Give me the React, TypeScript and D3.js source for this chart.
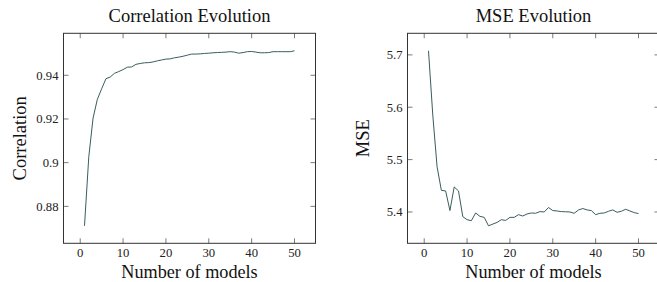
import React, { useEffect, useRef } from "react";
import * as d3 from "d3";

// number of models in the ensemble (x values)
const models = [
	1, 2, 3, 4, 5, 6, 7, 8, 9, 10, 11, 12, 13, 14, 15, 16, 17, 18, 19, 20, 21, 22, 23, 24, 25,
	26, 27, 28, 29, 30, 31, 32, 33, 34, 35, 36, 37, 38, 39, 40, 41, 42, 43, 44, 45, 46, 47, 48, 49, 50,
];

const correlation = [
	0.8711, 0.9027, 0.9204, 0.929, 0.9338, 0.9384, 0.9392, 0.9409, 0.9417, 0.9426, 0.9437, 0.9438,
	0.945, 0.9454, 0.9457, 0.9458, 0.9461, 0.9466, 0.947, 0.9474, 0.9475, 0.948, 0.9483, 0.9487,
	0.9492, 0.9497, 0.9497, 0.9498, 0.95, 0.9501, 0.9503, 0.9504, 0.9505, 0.9506, 0.9508, 0.9506,
	0.9501, 0.9504, 0.9508, 0.9509, 0.9506, 0.9503, 0.9503, 0.9504, 0.9508, 0.9508, 0.9508, 0.9508,
	0.9508, 0.9512,
];

const mse = [
	5.7078, 5.585, 5.4865, 5.4414, 5.4401, 5.4027, 5.4478, 5.4401, 5.3911, 5.3853, 5.3834, 5.3981,
	5.3917, 5.3897, 5.3736, 5.3768, 5.3801, 5.3853, 5.3839, 5.3897, 5.3897, 5.3949, 5.3923, 5.3962,
	5.3981, 5.3975, 5.4007, 5.4, 5.4085, 5.4027, 5.4019, 5.4007, 5.4004, 5.4, 5.3975, 5.4039, 5.4066,
	5.4039, 5.4027, 5.3949, 5.3975, 5.3981, 5.4013, 5.4039, 5.3994, 5.4013, 5.4052, 5.4019, 5.3988,
	5.3969,
];

const xTicks = [0, 10, 20, 30, 40, 50];
const corrTicks = [0.88, 0.9, 0.92, 0.94];
const corrTickLabels = ["0.88", "0.9", "0.92", "0.94"];
const mseTicks = [5.4, 5.5, 5.6, 5.7];
const mseTickLabels = ["5.4", "5.5", "5.6", "5.7"];

const FONT = "'Liberation Serif', 'Times New Roman', serif";

const drawPanel = (svg, { left, title, yLabel, yLabelX, values, yTicks, yTickLabels }) => {
	const top = 33.3;
	const width = 252;
	const height = 210;

	// pgfplots style: enlarge limits by 10% of the data range
	const [x0, x1] = d3.extent(models);
	const [y0, y1] = d3.extent(values);
	const dx = (x1 - x0) * 0.1;
	const dy = (y1 - y0) * 0.1;

	const x = d3.scaleLinear().domain([x0 - dx, x1 + dx]).range([0, width]);
	const y = d3.scaleLinear().domain([y0 - dy, y1 + dy]).range([height, 0]);

	const g = svg.append("g").attr("transform", `translate(${left},${top})`);

	const tickLen = 5;
	const tickColor = "#7a7a7a";

	// x ticks, bottom and top, pointing inward
	xTicks.forEach((t) => {
		g.append("line")
			.attr("x1", x(t))
			.attr("x2", x(t))
			.attr("y1", height)
			.attr("y2", height - tickLen)
			.attr("stroke", tickColor);
		g.append("line")
			.attr("x1", x(t))
			.attr("x2", x(t))
			.attr("y1", 0)
			.attr("y2", tickLen)
			.attr("stroke", tickColor);
		g.append("text")
			.attr("x", x(t))
			.attr("y", height + 13.8)
			.attr("text-anchor", "middle")
			.attr("font-family", FONT)
			.attr("font-size", 12.7)
			.attr("fill", "#222")
			.text(t);
	});

	// y ticks, left and right
	yTicks.forEach((t, i) => {
		g.append("line")
			.attr("x1", 0)
			.attr("x2", tickLen)
			.attr("y1", y(t))
			.attr("y2", y(t))
			.attr("stroke", tickColor);
		g.append("line")
			.attr("x1", width)
			.attr("x2", width - tickLen)
			.attr("y1", y(t))
			.attr("y2", y(t))
			.attr("stroke", tickColor);
		g.append("text")
			.attr("x", -5)
			.attr("y", y(t))
			.attr("dy", "0.34em")
			.attr("text-anchor", "end")
			.attr("font-family", FONT)
			.attr("font-size", 12.7)
			.attr("fill", "#222")
			.text(yTickLabels[i]);
	});

	const line = d3
		.line()
		.x((d) => x(d[0]))
		.y((d) => y(d[1]));

	g.append("path")
		.datum(models.map((m, i) => [m, values[i]]))
		.attr("d", line)
		.attr("fill", "none")
		.attr("stroke", "#3c5c5c")
		.attr("stroke-width", 1);

	// frame
	g.append("rect")
		.attr("width", width)
		.attr("height", height)
		.attr("fill", "none")
		.attr("stroke", "#333")
		.attr("stroke-width", 1);

	g.append("text")
		.attr("x", width / 2)
		.attr("y", 21.7 - top)
		.attr("text-anchor", "middle")
		.attr("font-family", FONT)
		.attr("font-size", 18.5)
		.attr("fill", "#111")
		.text(title);

	// x label sits right at the bottom edge, keep its descent inside the page
	g.append("text")
		.attr("x", width / 2)
		.attr("y", 277.8 - top)
		.attr("text-anchor", "middle")
		.attr("font-family", FONT)
		.attr("font-size", 18.2)
		.attr("fill", "#111")
		.text("Number of models");

	g.append("text")
		.attr("transform", `translate(${yLabelX - left},${height / 2}) rotate(-90)`)
		.attr("text-anchor", "middle")
		.attr("font-family", FONT)
		.attr("font-size", 18.5)
		.attr("fill", "#111")
		.text(yLabel);
};

const App = () => {
	const svgRef = useRef(null);

	useEffect(() => {
		const svg = d3.select(svgRef.current);
		svg.selectAll("*").remove();

		drawPanel(svg, {
			left: 63.5,
			title: "Correlation Evolution",
			yLabel: "Correlation",
			yLabelX: 25.8,
			values: correlation,
			yTicks: corrTicks,
			yTickLabels: corrTickLabels,
		});

		drawPanel(svg, {
			left: 407.5,
			title: "MSE Evolution",
			yLabel: "MSE",
			yLabelX: 369,
			values: mse,
			yTicks: mseTicks,
			yTickLabels: mseTickLabels,
		});
	}, []);

	return (
		<svg
			ref={svgRef}
			width="657"
			height="282"
			style={{ position: "absolute", left: 0, top: 0, background: "#fff" }}
		></svg>
	);
};

export default App;
